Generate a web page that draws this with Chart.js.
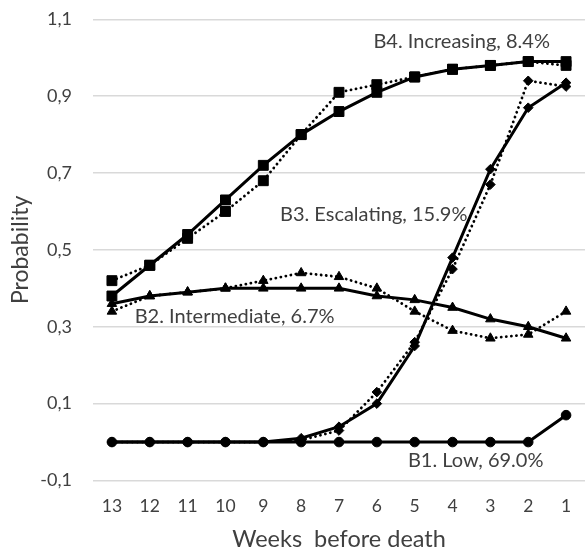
<!DOCTYPE html>
<html>
<head>
<meta charset="utf-8">
<script src="https://cdn.jsdelivr.net/npm/chart.js@4/dist/chart.umd.min.js"></script>
<style>
  html, body { margin: 0; padding: 0; background: #fff; overflow: hidden; }
  #wrap { width: 593px; height: 555px; }
</style>
</head>
<body>
<div id="wrap"><canvas id="c" width="593" height="555"></canvas></div>
<script>
// Categories: weeks before death
const weeks = ['13','12','11','10','9','8','7','6','5','4','3','2','1'];

// B4 Increasing (squares)
const b4Observed  = [0.42, 0.46, 0.53, 0.60, 0.68, 0.80, 0.91, 0.93, 0.95, 0.97, 0.98, 0.99, 0.98];
const b4Predicted = [0.38, 0.46, 0.54, 0.63, 0.72, 0.80, 0.86, 0.91, 0.95, 0.97, 0.98, 0.99, 0.99];

// B3 Escalating (diamonds)
const b3Observed  = [0, 0, 0, 0, 0, 0.005, 0.03, 0.13, 0.26, 0.45, 0.67, 0.94, 0.925];
const b3Predicted = [0, 0, 0, 0, 0, 0.01, 0.04, 0.10, 0.25, 0.48, 0.71, 0.87, 0.935];

// B2 Intermediate (triangles)
const b2Observed  = [0.34, 0.38, 0.39, 0.40, 0.42, 0.44, 0.43, 0.40, 0.34, 0.29, 0.27, 0.28, 0.34];
const b2Predicted = [0.36, 0.38, 0.39, 0.40, 0.40, 0.40, 0.40, 0.38, 0.37, 0.35, 0.32, 0.30, 0.27];

// B1 Low (circles)
const b1Predicted = [0, 0, 0, 0, 0, 0, 0, 0, 0, 0, 0, 0, 0.07];

// Y tick values
const yTicks = [-0.1, 0.1, 0.3, 0.5, 0.7, 0.9, 1.1];

// Group labels
const groupLabels = ['B4. Increasing, 8.4%', 'B3. Escalating, 15.9%', 'B2. Intermediate, 6.7%', 'B1. Low, 69.0%'];

const FONT = 'Lato, "Open Sans", sans-serif';
const TEXT = '#404040';

function solid(data, style, r) {
  return { data, borderColor: '#000', backgroundColor: '#000', borderWidth: 3,
    pointStyle: style, pointRadius: r, pointBorderWidth: 1, pointBorderColor: '#000',
    pointBackgroundColor: '#000', tension: 0, fill: false };
}
function dotted(data, style, r) {
  return { data, borderColor: '#000', backgroundColor: '#000', borderWidth: 2.8,
    borderDash: [0.1, 5], borderCapStyle: 'round',
    pointStyle: style, pointRadius: r, pointBorderWidth: 1, pointBorderColor: '#000',
    pointBackgroundColor: '#000', tension: 0, fill: false };
}

// label anchor positions: [category index (fractional), baseline y value]
const labelPlugin = {
  id: 'groupLabels',
  afterDatasetsDraw(chart) {
    const {ctx, scales: {x, y}} = chart;
    const anchors = [[6.91, 1.025], [4.44, 0.574], [0.6, 0.31], [7.82, -0.065]];
    const x0 = x.getPixelForValue(0), x1 = x.getPixelForValue(1);
    ctx.save();
    ctx.font = '20px ' + FONT;
    ctx.fillStyle = TEXT;
    ctx.textAlign = 'left';
    ctx.textBaseline = 'alphabetic';
    groupLabels.forEach((t, i) => {
      const px = x0 + anchors[i][0] * (x1 - x0);
      const py = y.getPixelForValue(anchors[i][1]);
      ctx.fillText(t, px, py);
    });
    ctx.restore();
  }
};

new Chart(document.getElementById('c'), {
  type: 'line',
  data: {
    labels: weeks,
    datasets: [
      dotted(b4Observed, 'rect', 7),
      solid(b4Predicted, 'rect', 7),
      dotted(b3Observed, 'rectRot', 4.8),
      solid(b3Predicted, 'rectRot', 4.8),
      dotted(b2Observed, 'triangle', 5.5),
      solid(b2Predicted, 'triangle', 5.5),
      solid(b1Predicted, 'circle', 4.8)
    ]
  },
  options: {
    responsive: false,
    animation: false,
    layout: { padding: { top: 19.3, right: 0, left: 0, bottom: 0 } },
    plugins: { legend: { display: false }, tooltip: { enabled: false } },
    scales: {
      x: {
        offset: true,
        grid: { display: false, drawTicks: false },
        border: { display: false },
        ticks: { color: TEXT, font: { family: FONT, size: 17.5 }, padding: 15.5, maxRotation: 0, autoSkip: false },
        title: { display: true, text: 'Weeks  before death', color: TEXT, font: { family: FONT, size: 23.5 }, padding: { top: 0, bottom: 1 } },
        afterFit(s) { s.height = 74.5; s.paddingLeft = 0; s.paddingRight = 0; }
      },
      y: {
        min: -0.1, max: 1.1,
        afterBuildTicks(s) { s.ticks = yTicks.map(v => ({ value: v })); },
        grid: { color: '#d9d9d9', lineWidth: 1.6, drawTicks: false },
        border: { display: false },
        ticks: { color: TEXT, font: { family: FONT, size: 18 }, padding: 21,
          callback: v => v.toFixed(1).replace('.', ',') },
        title: { display: true, text: 'Probability', color: TEXT, font: { family: FONT, size: 23 }, padding: { top: 6.5, bottom: 0 } },
        afterFit(s) { s.width = 93; s.paddingTop = 0; s.paddingBottom = 0; }
      }
    }
  },
  plugins: [labelPlugin]
});
</script>
</body>
</html>
